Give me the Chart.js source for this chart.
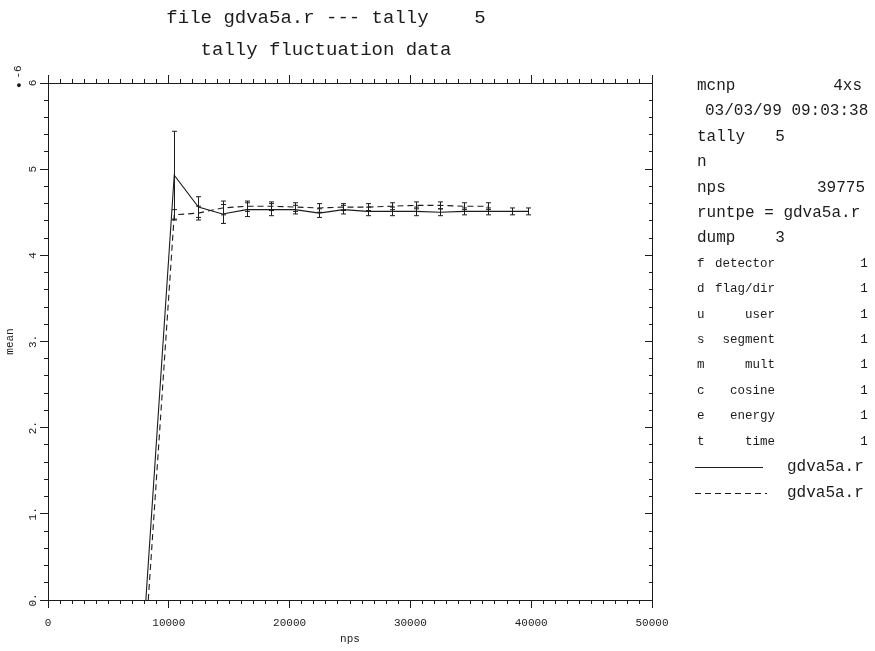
<!DOCTYPE html>
<html>
<head>
<meta charset="utf-8">
<script src="https://cdn.jsdelivr.net/npm/chart.js@4.4.0/dist/chart.umd.min.js"></script>
<style>
  body { margin: 0; background: #fff; }
  #wrap { position: relative; width: 875px; height: 651px; font-family: "Liberation Mono", "DejaVu Sans Mono", monospace; color: #1c1c1c; }
  canvas { position: absolute; left: 0; top: 0; }
  .t { position: absolute; white-space: pre; line-height: 1; transform: translateY(-50%); }
  .c { transform: translate(-50%, -50%); }
  .r { transform: translate(-100%, -50%); }
  .big { font-size: 19px; }
  .pn { font-size: 16px; }
  .sm { font-size: 12.5px; }
  .rot { transform: translate(-50%, -50%) rotate(-90deg); font-size: 11px; }
  .ln { position: absolute; height: 1px; background: #1c1c1c; }
  .ln.dash { background: repeating-linear-gradient(to right, #1c1c1c 0 6px, transparent 6px 10px); }
</style>
</head>
<body>
<div id="wrap">
  <canvas id="chart" width="875" height="651"></canvas>

  <div class="t c big" style="left:326px; top:18px;">file gdva5a.r --- tally    5</div>
  <div class="t c big" style="left:326px; top:50px;">tally fluctuation data</div>

  <div class="t rot" style="left:18px; top:72px;">-6</div>
  <div class="t c" style="left:19px; top:86px; font-size:9px;">&#9679;</div>

  <div class="t pn" style="left:697px; top:86px;">mcnp</div>
  <div class="t pn r" style="left:862px; top:86px;">4xs</div>
  <div class="t pn" style="left:705px; top:111px;">03/03/99 09:03:38</div>
  <div class="t pn" style="left:697px; top:137px;">tally</div>
  <div class="t pn c" style="left:780px; top:137px;">5</div>
  <div class="t pn" style="left:697px; top:162px;">n</div>
  <div class="t pn" style="left:697px; top:188px;">nps</div>
  <div class="t pn r" style="left:865px; top:188px;">39775</div>
  <div class="t pn" style="left:697px; top:213px;">runtpe = gdva5a.r</div>
  <div class="t pn" style="left:697px; top:238px;">dump</div>
  <div class="t pn c" style="left:780px; top:238px;">3</div>

  <div class="t sm" style="left:697px; top:264px;">f</div>
  <div class="t sm r" style="left:775px; top:264px;">detector</div>
  <div class="t sm c" style="left:864px; top:264px;">1</div>
  <div class="t sm" style="left:697px; top:289px;">d</div>
  <div class="t sm r" style="left:775px; top:289px;">flag/dir</div>
  <div class="t sm c" style="left:864px; top:289px;">1</div>
  <div class="t sm" style="left:697px; top:315px;">u</div>
  <div class="t sm r" style="left:775px; top:315px;">user</div>
  <div class="t sm c" style="left:864px; top:315px;">1</div>
  <div class="t sm" style="left:697px; top:340px;">s</div>
  <div class="t sm r" style="left:775px; top:340px;">segment</div>
  <div class="t sm c" style="left:864px; top:340px;">1</div>
  <div class="t sm" style="left:697px; top:365px;">m</div>
  <div class="t sm r" style="left:775px; top:365px;">mult</div>
  <div class="t sm c" style="left:864px; top:365px;">1</div>
  <div class="t sm" style="left:697px; top:391px;">c</div>
  <div class="t sm r" style="left:775px; top:391px;">cosine</div>
  <div class="t sm c" style="left:864px; top:391px;">1</div>
  <div class="t sm" style="left:697px; top:416px;">e</div>
  <div class="t sm r" style="left:775px; top:416px;">energy</div>
  <div class="t sm c" style="left:864px; top:416px;">1</div>
  <div class="t sm" style="left:697px; top:442px;">t</div>
  <div class="t sm r" style="left:775px; top:442px;">time</div>
  <div class="t sm c" style="left:864px; top:442px;">1</div>

  <div class="ln" style="left:695px; top:467px; width:68px;"></div>
  <div class="t pn" style="left:787px; top:467px;">gdva5a.r</div>
  <div class="ln dash" style="left:695px; top:493px; width:72px;"></div>
  <div class="t pn" style="left:787px; top:493px;">gdva5a.r</div>
</div>

<script>
// solid series (first gdva5a.r)
const solidNps = [8100, 10450, 12450, 14450, 16450, 18450, 20450, 22450, 24450, 26450, 28450, 30450, 32450, 34450, 36450, 38450, 39775];
const solidMean = [0, 4.93, 4.56, 4.48, 4.53, 4.53, 4.53, 4.49, 4.53, 4.51, 4.51, 4.51, 4.50, 4.51, 4.51, 4.51, 4.51];
const solidErr = [0, 0.51, 0.12, 0.11, 0.08, 0.07, 0.05, 0.05, 0.05, 0.05, 0.05, 0.05, 0.04, 0.04, 0.04, 0.04, 0.04];

// dashed series (second gdva5a.r)
const dashedNps = [8300, 10450, 12450, 14450, 16450, 18450, 20450, 22450, 24450, 26450, 28450, 30450, 32450, 34450, 36450];
const dashedMean = [0, 4.47, 4.49, 4.55, 4.57, 4.57, 4.56, 4.55, 4.56, 4.56, 4.57, 4.58, 4.58, 4.57, 4.57];
const dashedErr = [0, 0.06, 0.08, 0.08, 0.06, 0.05, 0.05, 0.05, 0.04, 0.04, 0.04, 0.04, 0.04, 0.04, 0.04];

const xTicks = [0, 10000, 20000, 30000, 40000, 50000];
const yTickLabels = ['0.', '1.', '2.', '3.', '4', '5', '6'];

const ink = '#1c1c1c';
const tickFont = { family: 'Liberation Mono', size: 11 };

function points(xs, ys) {
    return xs.map((x, i) => ({ x: x, y: ys[i] }));
}

// vertical error bars with small caps
const errorBars = {
    id: 'errorBars',
    afterDatasetsDraw(chart) {
        const ctx = chart.ctx;
        const x = chart.scales.x;
        const y = chart.scales.y;
        ctx.save();
        ctx.strokeStyle = ink;
        ctx.lineWidth = 1;
        chart.data.datasets.forEach(ds => {
            ds.data.forEach((p, i) => {
                const e = ds.errors[i];
                if (!e) return;
                const px = Math.round(x.getPixelForValue(p.x)) + 0.5;
                const top = y.getPixelForValue(p.y + e);
                const bot = y.getPixelForValue(p.y - e);
                ctx.beginPath();
                ctx.moveTo(px, top); ctx.lineTo(px, bot);
                ctx.moveTo(px - 2.5, top); ctx.lineTo(px + 2.5, top);
                ctx.moveTo(px - 2.5, bot); ctx.lineTo(px + 2.5, bot);
                ctx.stroke();
            });
        });
        ctx.restore();
    }
};

// unlabeled axis that only draws the frame line and its tick marks
// (positive length = ticks outside the box, negative = inside)
function frameAxis(position, min, max, step, len, weight) {
    return {
        type: 'linear',
        position: position,
        min: min,
        max: max,
        weight: weight,
        ticks: { display: false, stepSize: step, autoSkip: false },
        grid: { drawOnChartArea: false, tickLength: len, color: ink, tickColor: ink },
        border: { color: ink, width: 1 },
        afterFit: s => { if (s.isHorizontal()) s.height = 0; else s.width = 0; }
    };
}

new Chart(document.getElementById('chart'), {
    type: 'line',
    data: {
        datasets: [{
            label: 'gdva5a.r',
            data: points(solidNps, solidMean),
            errors: solidErr,
            borderColor: ink,
            borderWidth: 1.1,
            pointRadius: 0,
            tension: 0
        }, {
            label: 'gdva5a.r',
            data: points(dashedNps, dashedMean),
            errors: dashedErr,
            borderColor: ink,
            borderWidth: 1.1,
            borderDash: [6, 4],
            pointRadius: 0,
            tension: 0
        }]
    },
    options: {
        responsive: false,
        animation: false,
        layout: { padding: { top: 83, right: 223, bottom: 0, left: 0 } },
        plugins: {
            legend: { display: false },
            tooltip: { enabled: false }
        },
        scales: {
            x: {
                type: 'linear',
                position: 'bottom',
                min: 0,
                max: 50000,
                weight: 1,
                afterBuildTicks: s => { s.ticks = xTicks.map(v => ({ value: v })); },
                ticks: { color: ink, font: tickFont, padding: 8, autoSkip: false, maxRotation: 0, callback: v => String(v) },
                grid: { drawOnChartArea: false, tickLength: 8, color: ink, tickColor: ink },
                border: { color: ink, width: 1 },
                title: { display: true, text: 'nps', color: ink, font: tickFont, padding: { top: 0, bottom: 5 } },
                afterFit: s => { s.height = 51; }
            },
            xMinor: frameAxis('bottom', 0, 50000, 1000, 4, 0),
            xTop: frameAxis('top', 0, 50000, 1000, 4, 0),
            xTopMajor: frameAxis('top', 0, 50000, 10000, 8, 1),
            y: {
                type: 'linear',
                position: 'left',
                min: 0,
                max: 6,
                weight: 1,
                ticks: {
                    stepSize: 1,
                    color: ink,
                    font: tickFont,
                    padding: 0,
                    minRotation: 90,
                    maxRotation: 90,
                    crossAlign: 'center',
                    autoSkip: false,
                    callback: v => yTickLabels[Math.round(v)]
                },
                grid: { drawOnChartArea: false, tickLength: 8, color: ink, tickColor: ink },
                border: { color: ink, width: 1 },
                title: { display: true, text: 'mean', color: ink, font: tickFont, padding: { top: 3, bottom: 0 } },
                afterFit: s => { s.width = 48; }
            },
            yMinor: frameAxis('left', 0, 6, 0.2, 4, 0),
            yRight: frameAxis('right', 0, 6, 0.2, -3, 0),
            yRightMajor: frameAxis('right', 0, 6, 1, -7, 1)
        }
    },
    plugins: [errorBars]
});
</script>
</body>
</html>
